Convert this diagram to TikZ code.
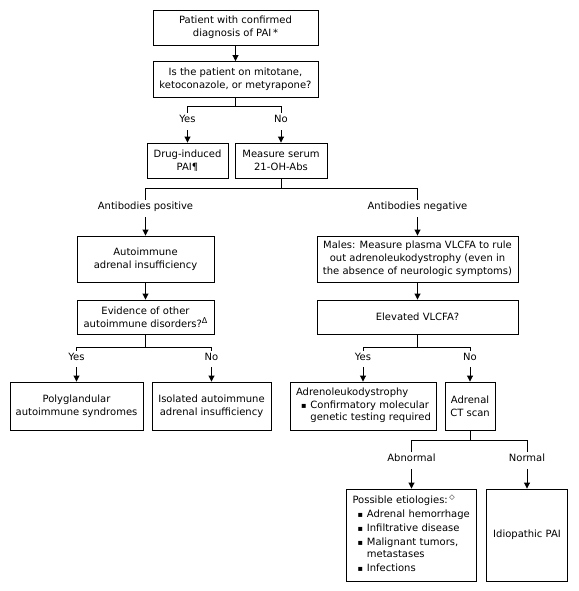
\documentclass[tikz,border=0pt]{standalone}
\usepackage{fontspec}
\setmainfont{DejaVu Sans}
\usetikzlibrary{arrows.meta}
\newcommand{\dfont}{\fontsize{10}{13}\selectfont}
\newcommand{\bul}{{\fontsize{8}{10}\selectfont ▪}}
\tikzset{
  box/.style={draw, line width=0.9pt, align=center, inner sep=0pt, font=\dfont},
  lab/.style={inner sep=0pt, text height=7.5pt, text depth=2.5pt, font=\dfont},
  arr/.style={line width=0.9pt, -{Triangle[length=6pt,width=6pt]}},
  ln/.style={line width=0.9pt},
}
\begin{document}
\begin{tikzpicture}[x=1pt,y=-1pt]
\useasboundingbox (0,0) rectangle (578,591);
% top
\node[box, minimum width=165, minimum height=35] (n1) at (235.5,27.5) {Patient with confirmed\\diagnosis of PAI\,*};
\node[box, minimum width=165, minimum height=36] (n2) at (235.5,79.5) {Is the patient on mitotane,\\ketoconazole, or metyrapone?};
\node[lab] (yes1) at (187.5,120) {Yes};
\node[lab] (no1) at (281,120) {No};
\node[box, minimum width=81, minimum height=35] (drug) at (187.5,160.5) {Drug-induced\\PAI¶};
\node[box, minimum width=92, minimum height=35] (meas) at (281,160.5) {Measure serum\\21-OH-Abs};
\draw[arr] (n1) -- (n2);
\coordinate (b1) at (235.5,106);
\draw[ln] (n2.south) -- (b1) -| ([yshift=2pt]yes1.north);
\draw[ln] (b1) -| ([yshift=2pt]no1.north);
\draw[arr] ([yshift=-5pt]yes1.south) -- (drug.north);
\draw[arr] ([yshift=-5pt]no1.south) -- (meas.north);
% antibodies
\node[lab] (abpos) at (145.5,207) {Antibodies positive};
\node[lab] (abneg) at (417.5,207) {Antibodies negative};
\coordinate (b2) at (281,188);
\draw[ln] (meas.south) -- (b2) -| ([yshift=2pt]abpos.north);
\draw[ln] (b2) -| ([yshift=2pt]abneg.north);
% left branch
\node[box, minimum width=137, minimum height=46] (auto) at (145.5,259) {Autoimmune\\adrenal insufficiency};
\node[box, minimum width=137, minimum height=34] (evid) at (145.5,317) {Evidence of other\\autoimmune disorders?{\fontsize{8}{8}\selectfont\raisebox{4pt}{Δ}}};
\draw[arr] ([yshift=-5pt]abpos.south) -- (auto.north);
\draw[arr] (auto) -- (evid);
\node[lab] (yes3) at (76.5,358) {Yes};
\node[lab] (no3) at (211.5,358) {No};
\coordinate (b3) at (145.5,347);
\draw[ln] (evid.south) -- (b3) -| ([yshift=2pt]yes3.north);
\draw[ln] (b3) -| ([yshift=2pt]no3.north);
\node[box, minimum width=133, minimum height=48] (poly) at (76.5,406) {Polyglandular\\autoimmune syndromes};
\node[box, minimum width=119, minimum height=48] (iso) at (211.5,406) {Isolated autoimmune\\adrenal insufficiency};
\draw[arr] ([yshift=-4pt]yes3.south) -- (poly.north);
\draw[arr] ([yshift=-4pt]no3.south) -- (iso.north);
% right branch
\node[box, minimum width=201, minimum height=46] (males) at (417.5,259) {Males: Measure plasma VLCFA to rule\\out adrenoleukodystrophy (even in\\the absence of neurologic symptoms)};
\node[box, minimum width=201, minimum height=34] (elev) at (417.5,317) {Elevated VLCFA?};
\draw[arr] ([yshift=-5pt]abneg.south) -- (males.north);
\draw[arr] (males) -- (elev);
\node[lab] (yes4) at (363,358) {Yes};
\node[lab] (no4) at (470,358) {No};
\coordinate (b4) at (417.5,347);
\draw[ln] (elev.south) -- (b4) -| ([yshift=2pt]yes4.north);
\draw[ln] (b4) -| ([yshift=2pt]no4.north);
\node[box, minimum width=146, minimum height=48, text width=134pt, inner xsep=6pt, align=left] (ald) at (363,406) {Adrenoleukodystrophy\\[1pt]
\begin{tabular}{@{\hspace{5pt}}l@{\hspace{4pt}}l@{}}
\bul & Confirmatory molecular\\[-1pt]
 & genetic testing required
\end{tabular}};
\node[box, minimum width=50, minimum height=48] (ct) at (470,406) {Adrenal\\CT scan};
\draw[arr] ([yshift=-4pt]yes4.south) -- (ald.north);
\draw[arr] ([yshift=-4pt]no4.south) -- (ct.north);
% CT branch
\node[lab] (abn) at (411.5,459) {Abnormal};
\node[lab] (norm) at (527,459) {Normal};
\coordinate (b5) at (470,440);
\draw[ln] (ct.south) -- (b5) -| ([yshift=2pt]abn.north);
\draw[ln] (b5) -| ([yshift=2pt]norm.north);
\node[box, minimum width=130, minimum height=92, text width=118pt, inner xsep=6pt, align=left] (etio) at (411.5,535) {Possible etiologies:\,{\fontsize{7}{7}\selectfont\raisebox{4pt}{◇}}\\[2pt]
\begin{tabular}{@{\hspace{5pt}}l@{\hspace{4pt}}l@{}}
\bul & Adrenal hemorrhage\\[1pt]
\bul & Infiltrative disease\\[1pt]
\bul & Malignant tumors,\\[-1pt]
 & metastases\\[1pt]
\bul & Infections
\end{tabular}};
\node[box, minimum width=81, minimum height=92] (idio) at (527,535) {Idiopathic PAI};
\draw[arr] ([yshift=-5pt]abn.south) -- (etio.north);
\draw[arr] ([yshift=-5pt]norm.south) -- (idio.north);
\end{tikzpicture}
\end{document}
